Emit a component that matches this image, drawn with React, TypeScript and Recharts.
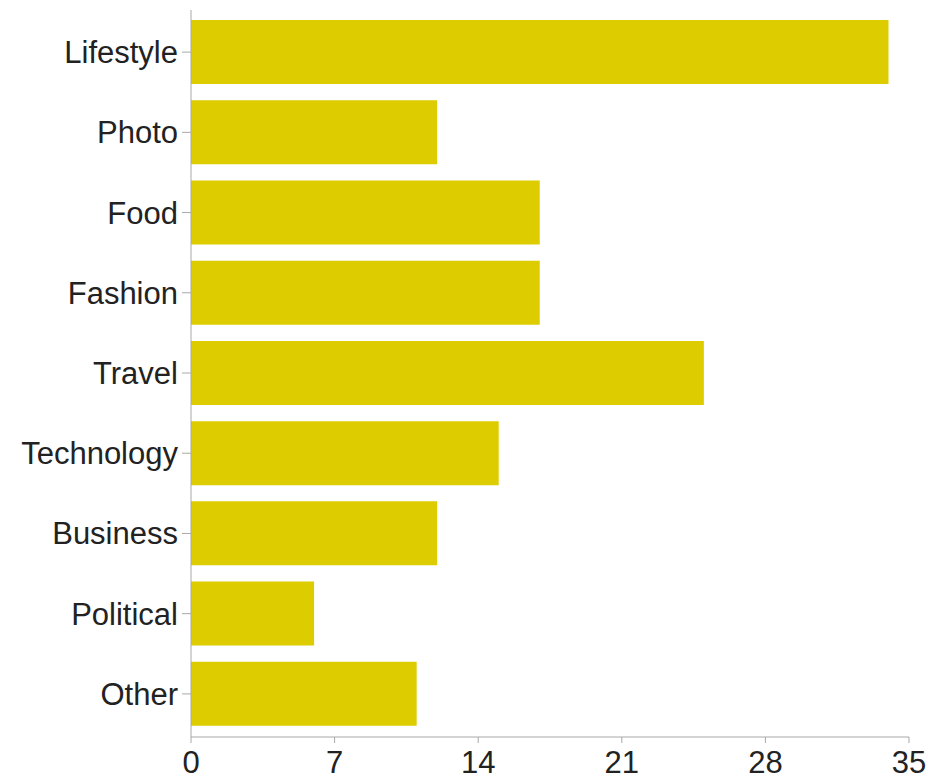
import React from "react";
import { BarChart, Bar, XAxis, YAxis } from "recharts";

const categories = ["Lifestyle", "Photo", "Food", "Fashion", "Travel", "Technology", "Business", "Political", "Other"];
const counts = [34, 12, 17, 17, 25, 15, 12, 6, 11];
const xTicks = [0, 7, 14, 21, 28, 35];

const data = categories.map((name, i) => ({ name, value: counts[i] }));

const FONT = "'Liberation Sans', Arial, Helvetica, sans-serif";

export default function App() {
  return (
    <div style={{ position: "absolute", left: 0, top: 0, background: "#fff" }}>
      <BarChart
        width={928}
        height={781}
        data={data}
        layout="vertical"
        margin={{ top: 10, right: 19, bottom: 0, left: 0 }}
        barCategoryGap="10%"
      >
        <XAxis
          type="number"
          domain={[0, 35]}
          ticks={xTicks}
          height={44}
          stroke="#a8a8a8"
          tickSize={6}
          tickMargin={8}
          tick={{ fill: "#222222", fontSize: 31, fontFamily: FONT }}
          interval={0}
        />
        <YAxis
          type="category"
          dataKey="name"
          width={191}
          stroke="#a8a8a8"
          tickSize={9}
          tickMargin={4}
          padding={{ top: 2, bottom: 3 }}
          tick={{ fill: "#222222", fontSize: 31, fontFamily: FONT }}
          interval={0}
        />
        <Bar dataKey="value" fill="#DDCC00" isAnimationActive={false} />
      </BarChart>
    </div>
  );
}
